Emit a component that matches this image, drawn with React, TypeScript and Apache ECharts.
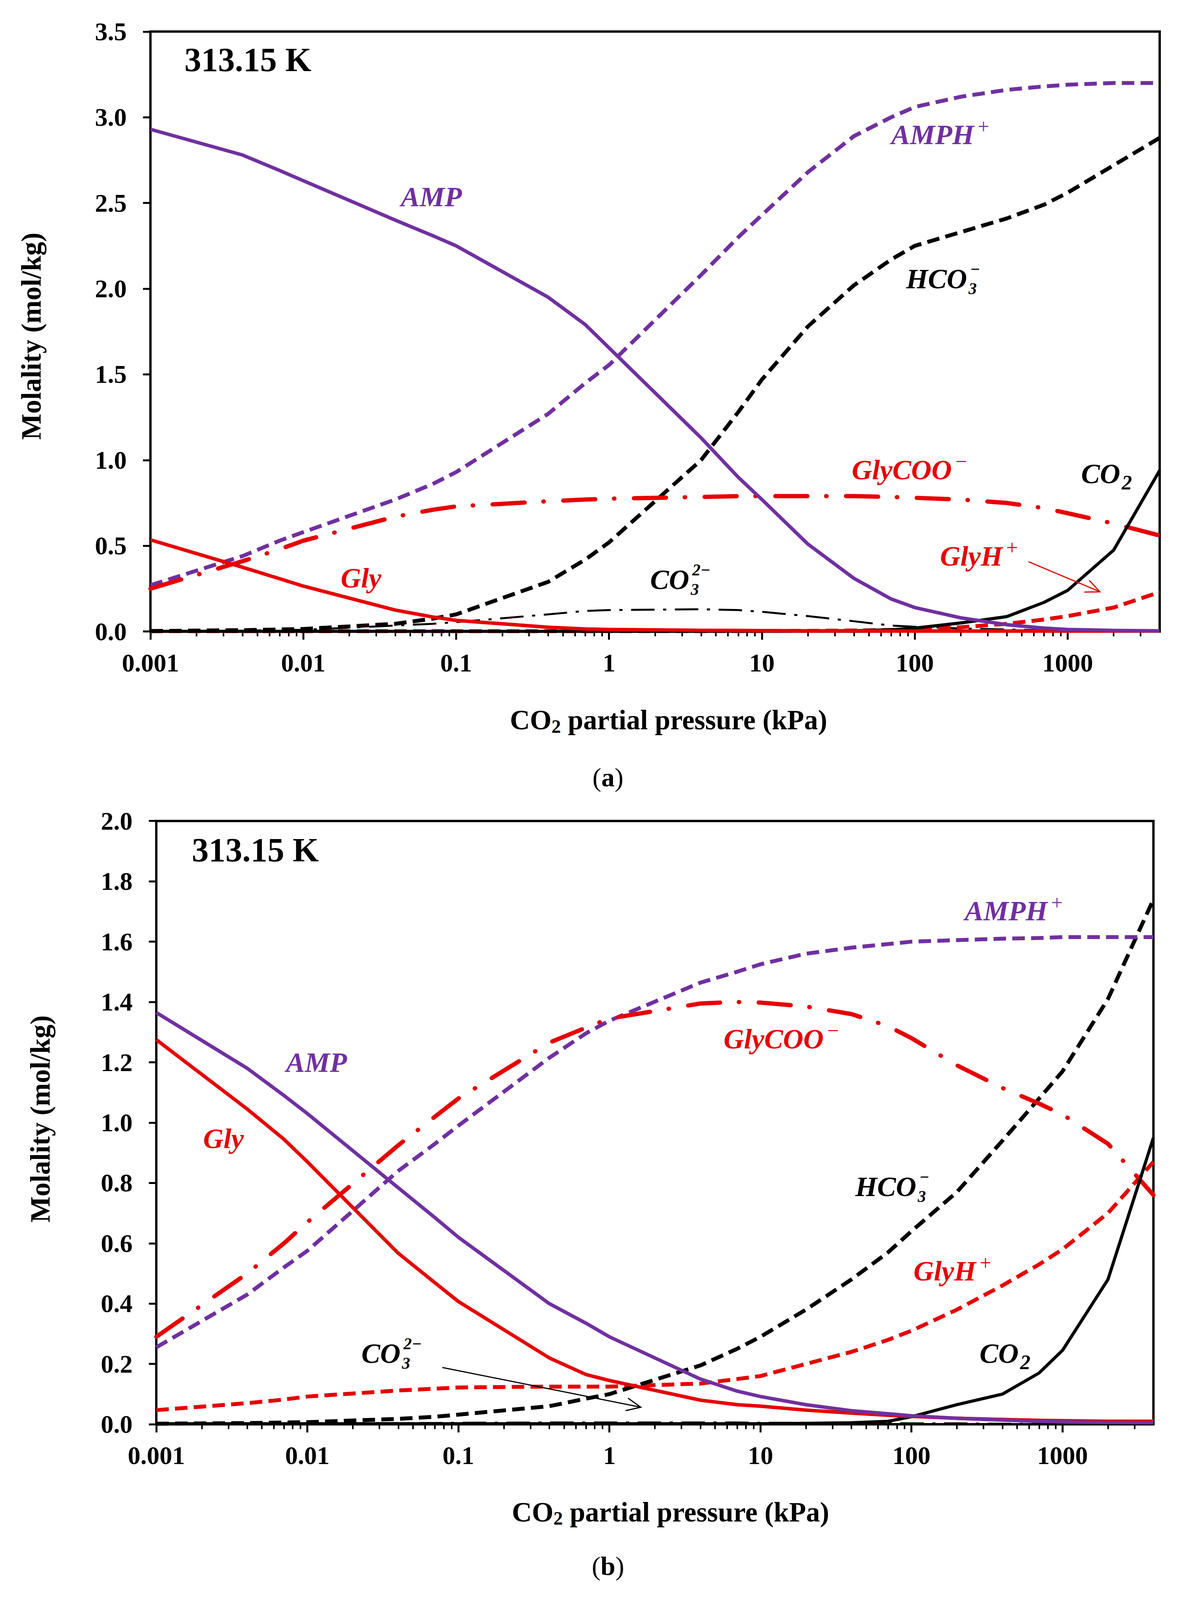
import * as echarts from 'echarts'
import { useEffect, useRef } from 'react'

// CO2 partial pressure (kPa) at which the speciation was computed
const PRESSURE = [0.001, 0.004, 0.007, 0.01, 0.04, 0.07, 0.1, 0.4, 0.7, 1, 4, 7, 10, 20, 40, 70, 100, 200, 400, 700, 1000, 2000, 4000]

// panel (a)
const AMP_A = [2.93, 2.78, 2.69, 2.63, 2.4, 2.31, 2.25, 1.95, 1.79, 1.655, 1.13, 0.9, 0.77, 0.51, 0.31, 0.19, 0.14, 0.08, 0.04, 0.02, 0.012, 0.006, 0.004]
const AMPH_A = [0.27, 0.44, 0.53, 0.58, 0.77, 0.86, 0.93, 1.27, 1.45, 1.555, 2.08, 2.3, 2.43, 2.68, 2.89, 3.0, 3.06, 3.12, 3.16, 3.18, 3.19, 3.2, 3.2]
const HCO3_A = [0.003, 0.008, 0.012, 0.015, 0.045, 0.075, 0.1, 0.29, 0.42, 0.52, 1.0, 1.28, 1.47, 1.78, 2.02, 2.17, 2.25, 2.33, 2.41, 2.49, 2.56, 2.72, 2.88]
const CO3_A = [0.002, 0.005, 0.008, 0.01, 0.035, 0.045, 0.055, 0.1, 0.12, 0.125, 0.13, 0.125, 0.115, 0.09, 0.06, 0.035, 0.028, 0.018, 0.012, 0.008, 0.006, 0.004, 0.003]
const CO2_A = [0.001, 0.001, 0.001, 0.001, 0.001, 0.001, 0.001, 0.001, 0.001, 0.001, 0.001, 0.002, 0.002, 0.003, 0.005, 0.01, 0.02, 0.05, 0.087, 0.17, 0.24, 0.475, 0.94]
const GLY_A = [0.535, 0.375, 0.308, 0.265, 0.125, 0.085, 0.065, 0.025, 0.015, 0.012, 0.007, 0.006, 0.005, 0.004, 0.004, 0.003, 0.003, 0.003, 0.003, 0.003, 0.003, 0.003, 0.003]
const GLYCOO_A = [0.25, 0.41, 0.48, 0.53, 0.67, 0.71, 0.73, 0.76, 0.77, 0.775, 0.785, 0.79, 0.79, 0.79, 0.79, 0.785, 0.78, 0.77, 0.75, 0.72, 0.69, 0.63, 0.56]
const GLYH_A = [0.002, 0.002, 0.002, 0.002, 0.002, 0.002, 0.002, 0.002, 0.002, 0.003, 0.003, 0.003, 0.003, 0.004, 0.006, 0.009, 0.012, 0.025, 0.045, 0.07, 0.09, 0.14, 0.23]

// panel (b)
const AMP_B = [1.365, 1.18, 1.09, 1.03, 0.784, 0.685, 0.62, 0.4, 0.335, 0.29, 0.15, 0.11, 0.092, 0.065, 0.045, 0.035, 0.028, 0.02, 0.014, 0.01, 0.008, 0.006, 0.005]
const AMPH_B = [0.255, 0.43, 0.52, 0.575, 0.84, 0.93, 0.99, 1.215, 1.296, 1.338, 1.464, 1.5, 1.525, 1.56, 1.58, 1.592, 1.6, 1.605, 1.61, 1.612, 1.615, 1.615, 1.615]
const HCO3_B = [0.002, 0.004, 0.006, 0.007, 0.018, 0.025, 0.032, 0.06, 0.085, 0.1, 0.195, 0.25, 0.29, 0.38, 0.48, 0.57, 0.64, 0.77, 0.94, 1.08, 1.17, 1.41, 1.74]
const CO3_B = [0.001, 0.002, 0.002, 0.003, 0.004, 0.004, 0.005, 0.006, 0.006, 0.006, 0.006, 0.006, 0.005, 0.005, 0.004, 0.004, 0.003, 0.003, 0.002, 0.002, 0.002, 0.001, 0.001]
const CO2_B = [0.002, 0.002, 0.002, 0.002, 0.002, 0.002, 0.002, 0.002, 0.002, 0.002, 0.002, 0.002, 0.002, 0.003, 0.005, 0.01, 0.025, 0.065, 0.1, 0.17, 0.245, 0.48, 0.95]
const GLY_B = [1.275, 1.045, 0.945, 0.87, 0.567, 0.469, 0.407, 0.22, 0.165, 0.145, 0.08, 0.065, 0.06, 0.047, 0.037, 0.03, 0.026, 0.02, 0.016, 0.013, 0.012, 0.01, 0.01]
const GLYCOO_B = [0.29, 0.5, 0.6, 0.67, 0.925, 1.02, 1.08, 1.265, 1.315, 1.345, 1.395, 1.4, 1.398, 1.385, 1.36, 1.32, 1.28, 1.19, 1.115, 1.063, 1.027, 0.93, 0.76]
const GLYH_B = [0.047, 0.07, 0.082, 0.092, 0.112, 0.118, 0.122, 0.125, 0.125, 0.125, 0.135, 0.15, 0.16, 0.2, 0.24, 0.28, 0.31, 0.38, 0.46, 0.53, 0.58, 0.7, 0.87]

// axes
const X_MIN = 0.001
const X_MAX = 4000
const X_LABELS = [0.001, 0.01, 0.1, 1, 10, 100, 1000]
const MINOR_STEPS = [2, 3, 4, 5, 6, 7, 8, 9]
const MINOR_TICKS = X_LABELS.flatMap((d) => MINOR_STEPS.map((m) => +(m * d).toPrecision(6))).filter((v) => v < X_MAX)
const Y_MAX_A = 3.5
const Y_STEP_A = 0.5
const Y_MAX_B = 2
const Y_STEP_B = 0.2

const PURPLE = '#7030A0'
const RED = '#E60000'
const BLACK = '#000000'
const FONT = 'Liberation Serif'

const SHORT_DASH = [32, 16]
const LONG_DASH_DOT = [82, 48, 1, 50]
const THIN_DASH_DOT = [60, 22, 8, 22]

// layout was measured on a 3020 x 4307 page
const REF_W = 3020
const REF_H = 4307

let measureCtx: CanvasRenderingContext2D | null = null
const textWidth = (text: string, size: number, weight = 'normal', style = 'normal') => {
	if (!measureCtx) measureCtx = document.createElement('canvas').getContext('2d')
	if (!measureCtx) return text.length * size * 0.5
	measureCtx.font = `${style} ${weight} ${size}px "${FONT}"`
	return measureCtx.measureText(text).width
}

type Part = { text: string; size: number; weight?: string; dy?: number }

const buildOption = (width: number, height: number) => {
	const sx = width / REF_W
	const sy = height / REF_H
	const k = Math.min(sx, sy)
	const X = (v: number) => v * sx
	const Y = (v: number) => v * sy
	const F = (v: number) => Math.round(v * k)

	const txt = (x: number, y: number, text: string, size: number, color: string, extra: any = {}) => ({
		type: 'text',
		x,
		y,
		silent: true,
		z: 100,
		style: {
			text,
			fill: color,
			fontFamily: FONT,
			fontSize: size,
			align: 'left',
			verticalAlign: 'middle',
			...extra,
		},
	})

	// species label; a sub- and superscript pair is stacked above each other
	const chem = (rx: number, ry: number, base: string, color: string, sub?: string, sup?: string) => {
		const size = F(76)
		const small = F(56)
		const stack = F(44)
		const x = X(rx)
		const y = Y(ry)
		const italic = { fontStyle: 'italic', fontWeight: 'bold' }
		const w = textWidth(base, size, 'bold', 'italic')
		const els: any[] = [txt(x, y, base, size, color, italic)]
		if (sub && sup) {
			const gap = Math.round(stack * 0.6)
			els.push(txt(x + w + 8 * k, y - gap, sup, stack, color, italic))
			els.push(txt(x + w + 4 * k, y + gap, sub, stack, color, italic))
		} else if (sub) {
			els.push(txt(x + w + 4 * k, y + size * 0.31, sub, small, color, italic))
		} else if (sup) {
			els.push(txt(x + w + 6 * k, y - size * 0.31, sup, small, color, { fontStyle: 'italic' }))
		}
		return els
	}

	// sequence of text runs centred on (rx, ry)
	const run = (rx: number, ry: number, parts: Part[], color = BLACK) => {
		const sized = parts.map((p) => ({ ...p, size: F(p.size), dy: (p.dy || 0) * k }))
		const widths = sized.map((p) => textWidth(p.text, p.size, p.weight || 'normal'))
		let x = X(rx) - widths.reduce((a, b) => a + b, 0) / 2
		return sized.map((p, i) => {
			const el = txt(x, Y(ry) + p.dy, p.text, p.size, color, { fontWeight: p.weight || 'normal' })
			x += widths[i]
			return el
		})
	}

	const arrow = (rx1: number, ry1: number, rx2: number, ry2: number, color: string) => {
		const x1 = X(rx1)
		const y1 = Y(ry1)
		const x2 = X(rx2)
		const y2 = Y(ry2)
		const a = Math.atan2(y2 - y1, x2 - x1)
		const head = 42 * k
		const spread = 0.42
		return [
			{ type: 'line', silent: true, z: 100, shape: { x1, y1, x2, y2 }, style: { stroke: color, lineWidth: 3 } },
			{
				type: 'polyline',
				silent: true,
				z: 100,
				shape: {
					points: [
						[x2 - head * Math.cos(a - spread), y2 - head * Math.sin(a - spread)],
						[x2, y2],
						[x2 - head * Math.cos(a + spread), y2 - head * Math.sin(a + spread)],
					],
				},
				style: { stroke: color, lineWidth: 3, fill: 'none' },
			},
		]
	}

	const yTitle = (rx: number, ry: number) => ({
		...txt(X(rx), Y(ry), 'Molality (mol/kg)', F(75), BLACK, { fontWeight: 'bold', align: 'center' }),
		rotation: Math.PI / 2,
	})

	const xTitle = (rx: number, ry: number) =>
		run(rx, ry, [
			{ text: 'CO', size: 75, weight: 'bold' },
			{ text: '2', size: 50, weight: 'bold', dy: 17 },
			{ text: ' partial pressure (kPa)', size: 75, weight: 'bold' },
		])

	const panelTag = (rx: number, ry: number, letter: string) =>
		run(rx, ry, [
			{ text: '(', size: 72 },
			{ text: letter, size: 72, weight: 'bold' },
			{ text: ')', size: 72 },
		])

	const tickFont = { color: BLACK, fontFamily: FONT, fontWeight: 'bold', fontSize: F(68) }

	const xMajor = (gridIndex: number) => ({
		type: 'log',
		gridIndex,
		logBase: 10,
		min: X_MIN,
		max: X_MAX,
		position: 'bottom',
		axisLine: { show: true, onZero: false, lineStyle: { color: BLACK, width: 6 } },
		axisTick: { show: true, customValues: X_LABELS, length: 22 * k, lineStyle: { color: BLACK, width: 5 } },
		axisLabel: {
			customValues: X_LABELS,
			formatter: (v: number) => String(+v.toPrecision(6)),
			margin: 50 * k,
			...tickFont,
		},
		splitLine: { show: false },
	})

	const xMinor = (gridIndex: number) => ({
		type: 'log',
		gridIndex,
		logBase: 10,
		min: X_MIN,
		max: X_MAX,
		position: 'bottom',
		axisLine: { show: false, onZero: false },
		axisTick: { show: true, customValues: MINOR_TICKS, length: 13 * k, lineStyle: { color: BLACK, width: 4 } },
		axisLabel: { show: false },
		splitLine: { show: false },
	})

	const yAxis = (gridIndex: number, max: number, interval: number) => ({
		type: 'value',
		gridIndex,
		min: 0,
		max,
		interval,
		axisLine: { show: true, onZero: false, lineStyle: { color: BLACK, width: 6 } },
		axisTick: { show: true, length: 20 * k, lineStyle: { color: BLACK, width: 5 } },
		axisLabel: { formatter: (v: number) => v.toFixed(1), margin: 64 * k, ...tickFont },
		splitLine: { show: false },
	})

	const line = (xAxisIndex: number, yAxisIndex: number, values: number[], color: string, w: number, type: any, cap = 'butt') => ({
		type: 'line',
		xAxisIndex,
		yAxisIndex,
		data: PRESSURE.map((p, i) => [p, values[i]]),
		showSymbol: false,
		symbol: 'none',
		silent: true,
		lineStyle: { color, width: w, type, cap, join: 'round' },
	})

	const panelSeries = (xi: number, yi: number, d: number[][]) => {
		const [amp, amph, hco3, co3, co2, gly, glycoo, glyh] = d
		return [
			line(xi, yi, co3, BLACK, 5, THIN_DASH_DOT),
			line(xi, yi, glyh, RED, 10, SHORT_DASH),
			line(xi, yi, hco3, BLACK, 10, SHORT_DASH),
			line(xi, yi, amph, PURPLE, 10, SHORT_DASH),
			line(xi, yi, glycoo, RED, 11, LONG_DASH_DOT, 'round'),
			line(xi, yi, co2, BLACK, 8, 'solid'),
			line(xi, yi, gly, RED, 9, 'solid'),
			line(xi, yi, amp, PURPLE, 9, 'solid'),
		]
	}

	const graphic = [
		// panel (a)
		txt(X(472), Y(161), '313.15 K', F(90), BLACK, { fontWeight: 'bold' }),
		...chem(1026, 530, 'AMP', PURPLE),
		...chem(2281, 363, 'AMPH', PURPLE, undefined, '+'),
		...chem(2319, 751, 'HCO', BLACK, '3', '\u2212'),
		...chem(2180, 1265, 'GlyCOO', RED, undefined, '\u2212'),
		...chem(2767, 1275, 'CO', BLACK, '2'),
		...chem(2406, 1497, 'GlyH', RED, undefined, '+'),
		...chem(1664, 1560, 'CO', BLACK, '3', '2\u2212'),
		...chem(872, 1556, 'Gly', RED),
		...arrow(2632, 1512, 2815, 1593, RED),
		yTitle(80, 905),
		...xTitle(1711, 1938),
		...panelTag(1556, 2092, 'a'),
		// panel (b)
		txt(X(491), Y(2288), '313.15 K', F(90), BLACK, { fontWeight: 'bold' }),
		...chem(732, 2860, 'AMP', PURPLE),
		...chem(520, 3065, 'Gly', RED),
		...chem(2469, 2452, 'AMPH', PURPLE, undefined, '+'),
		...chem(1852, 2797, 'GlyCOO', RED, undefined, '\u2212'),
		...chem(2189, 3195, 'HCO', BLACK, '3', '\u2212'),
		...chem(2338, 3422, 'GlyH', RED, undefined, '+'),
		...chem(2507, 3643, 'CO', BLACK, '2'),
		...chem(925, 3643, 'CO', BLACK, '3', '2\u2212'),
		...arrow(1132, 3681, 1640, 3788, BLACK),
		yTitle(103, 3012),
		...xTitle(1716, 4070),
		...panelTag(1556, 4215, 'b'),
	]

	const gridStyle = { show: true, borderColor: BLACK, borderWidth: 6, containLabel: false }

	return {
		animation: false,
		backgroundColor: '#ffffff',
		grid: [
			{ left: X(385), top: Y(85), width: X(2583), height: Y(1615), ...gridStyle },
			{ left: X(400), top: Y(2210), width: X(2552), height: Y(1624), ...gridStyle },
		],
		xAxis: [xMajor(0), xMinor(0), xMajor(1), xMinor(1)],
		yAxis: [yAxis(0, Y_MAX_A, Y_STEP_A), yAxis(1, Y_MAX_B, Y_STEP_B)],
		series: [
			...panelSeries(0, 0, [AMP_A, AMPH_A, HCO3_A, CO3_A, CO2_A, GLY_A, GLYCOO_A, GLYH_A]),
			...panelSeries(2, 1, [AMP_B, AMPH_B, HCO3_B, CO3_B, CO2_B, GLY_B, GLYCOO_B, GLYH_B]),
		],
		graphic,
	}
}

const App = () => {
	const chartRef = useRef<HTMLDivElement>(null)

	useEffect(() => {
		const el = chartRef.current
		if (!el) return
		const chart = echarts.init(el, null, { renderer: 'svg' })
		chart.setOption(buildOption(el.clientWidth || REF_W, el.clientHeight || REF_H))

		return () => {
			chart.dispose()
		}
	}, [])

	// fill the visible window so nothing falls below its bottom edge
	return (
		<div
			ref={chartRef}
			style={{ position: 'absolute', left: 0, top: 0, width: '100vw', height: '100vh', background: '#fff' }}
		/>
	)
}

export default App
